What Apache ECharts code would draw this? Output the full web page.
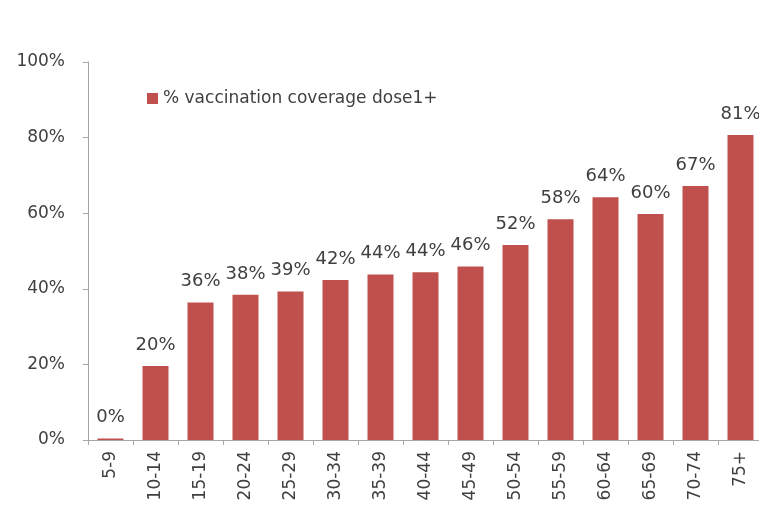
<!doctype html>
<html lang="en">
  <head>
    <meta charset="UTF-8" />
    <title>Vaccination coverage</title>
    <script src="https://cdn.jsdelivr.net/npm/echarts@6/dist/echarts.min.js"></script>
    <style>
      body { margin: 0; padding: 0; background: #fff; }
      #main { width: 759px; height: 520px; }
    </style>
  </head>
  <body>
    <div id="main"></div>
    <script>
      const ageGroups = ["5-9", "10-14", "15-19", "20-24", "25-29", "30-34", "35-39", "40-44", "45-49", "50-54", "55-59", "60-64", "65-69", "70-74", "75+"];
      const coverage = [0.4, 19.6, 36.4, 38.4, 39.3, 42.3, 43.8, 44.4, 45.9, 51.6, 58.4, 64.2, 59.8, 67.2, 80.7];
      const yTicks = [0, 20, 40, 60, 80, 100];

      const chart = echarts.init(document.getElementById("main"));
      const font = "'DejaVu Sans', sans-serif";

      chart.setOption({
        animation: false,
        textStyle: { fontFamily: font },
        grid: { left: 88, top: 62, width: 675, bottom: 80, outerBoundsMode: "none" },
        legend: {
          left: 142,
          top: 85,
          itemWidth: 11,
          itemHeight: 11,
          itemGap: 6,
          icon: "rect",
          textStyle: { fontSize: 17, color: "#404040", fontFamily: font },
          data: ["% vaccination coverage dose1+"]
        },
        xAxis: {
          type: "category",
          data: ageGroups,
          axisLine: { lineStyle: { color: "#a6a6a6" } },
          axisTick: { show: true, alignWithLabel: false, length: 5, lineStyle: { color: "#a6a6a6" } },
          axisLabel: { rotate: 90, fontSize: 17, color: "#404040", margin: 11 }
        },
        yAxis: {
          type: "value",
          min: yTicks[0],
          max: yTicks[yTicks.length - 1],
          interval: 20,
          splitLine: { show: false },
          axisLine: { show: true, lineStyle: { color: "#a6a6a6" } },
          axisTick: { show: true, length: 5, lineStyle: { color: "#a6a6a6" } },
          axisLabel: { formatter: "{value}%", fontSize: 17, color: "#404040", margin: 23 }
        },
        series: [
          {
            name: "% vaccination coverage dose1+",
            type: "bar",
            data: coverage,
            barWidth: 26,
            itemStyle: { color: "#c0504d" },
            label: {
              show: true,
              position: "top",
              distance: 12,
              fontSize: 18,
              color: "#404040",
              formatter: (p) => Math.round(p.value) + "%"
            }
          }
        ]
      });
    </script>
  </body>
</html>
